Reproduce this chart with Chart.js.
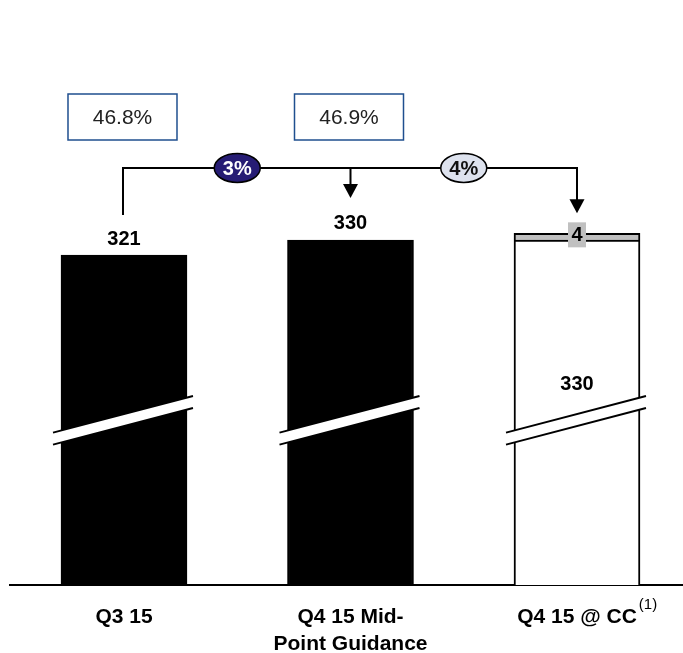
<!DOCTYPE html>
<html>
<head>
<meta charset="utf-8">
<script src="https://cdn.jsdelivr.net/npm/chart.js@4.4.1/dist/chart.umd.min.js"></script>
<style>
  html, body { margin: 0; padding: 0; background: #fff; }
  #wrap { width: 683px; height: 653px; position: relative; }
</style>
</head>
<body>
<div id="wrap"><canvas id="myChart"></canvas></div>
<script>
// chart values
let categories = [["Q3 15"], ["Q4 15 Mid-", "Point Guidance"], ["Q4 15 @ CC"]];
let footnotes = ["", "", "(1)"];
let revenue = [321, 330, 330];
let ccImpact = [null, null, 4];
let margins = ["46.8%", "46.9%"];
let growth = ["3%", "4%"];
let breakValue = 222; // where the axis break is drawn

const FONT = "'Liberation Sans', Arial, sans-serif";
Chart.defaults.font.family = FONT;

/**
 * Draws everything the bars themselves don't: breaks, labels, boxes, arrows
 */
const overlay = {
    id: "overlay",
    afterDatasetsDraw(chart) {
        const ctx = chart.ctx;
        const bars = chart.getDatasetMeta(0).data;
        const tops = chart.getDatasetMeta(1).data;
        const breakY = chart.scales.y.getPixelForValue(breakValue);
        const slope = 0.262;

        ctx.save();

        // axis break bands
        bars.forEach(bar => {
            let x1 = bar.x - bar.width / 2 - 8;
            let x2 = bar.x + bar.width / 2 + 6;
            let yL = breakY + (bar.x - x1) * slope;
            let yR = breakY - (x2 - bar.x) * slope;
            ctx.fillStyle = "#fff";
            ctx.beginPath();
            ctx.moveTo(x1, yL - 6);
            ctx.lineTo(x2, yR - 6);
            ctx.lineTo(x2, yR + 6);
            ctx.lineTo(x1, yL + 6);
            ctx.closePath();
            ctx.fill();
            ctx.strokeStyle = "#000";
            ctx.lineWidth = 2;
            ctx.beginPath();
            ctx.moveTo(x1, yL - 6);
            ctx.lineTo(x2, yR - 6);
            ctx.moveTo(x1, yL + 6);
            ctx.lineTo(x2, yR + 6);
            ctx.stroke();
        });

        // value labels
        ctx.fillStyle = "#000";
        ctx.font = "bold 20px " + FONT;
        ctx.textAlign = "center";
        ctx.textBaseline = "alphabetic";
        ctx.fillText(String(revenue[0]), bars[0].x, bars[0].y - 10);
        ctx.fillText(String(revenue[1]), bars[1].x, bars[1].y - 11);
        ctx.textBaseline = "middle";
        ctx.fillText(String(revenue[2]), bars[2].x, breakY - 36);

        // grey cc impact label
        let t = tops[2];
        let cy = t.y + 1.5;
        ctx.fillStyle = "#c0c0c0";
        ctx.fillRect(t.x - 9, cy - 12.5, 18, 25);
        ctx.fillStyle = "#000";
        ctx.fillText(String(ccImpact[2]), t.x, cy + 1);

        // margin boxes
        ctx.font = "21px " + FONT;
        margins.forEach((m, i) => {
            let bx = bars[i].x - 1.5;
            ctx.fillStyle = "#fff";
            ctx.fillRect(bx - 54.5, 94, 109, 46);
            ctx.strokeStyle = "#1f4f8f";
            ctx.lineWidth = 1.5;
            ctx.strokeRect(bx - 54.5, 94, 109, 46);
            ctx.fillStyle = "#222";
            ctx.fillText(m, bx, 118);
        });

        // connector with arrows
        const lineY = 168;
        let tip2 = bars[1].y - 42;
        let tip3 = t.y - 20;
        ctx.strokeStyle = "#000";
        ctx.lineWidth = 2;
        ctx.beginPath();
        ctx.moveTo(bars[0].x - 1, bars[0].y - 40);
        ctx.lineTo(bars[0].x - 1, lineY);
        ctx.lineTo(bars[2].x, lineY);
        ctx.lineTo(bars[2].x, tip3 - 13);
        ctx.moveTo(bars[1].x, lineY);
        ctx.lineTo(bars[1].x, tip2 - 13);
        ctx.stroke();
        ctx.fillStyle = "#000";
        [[bars[1].x, tip2], [bars[2].x, tip3]].forEach(a => {
            ctx.beginPath();
            ctx.moveTo(a[0] - 7.5, a[1] - 14);
            ctx.lineTo(a[0] + 7.5, a[1] - 14);
            ctx.lineTo(a[0], a[1]);
            ctx.closePath();
            ctx.fill();
        });

        // growth ovals
        const ovalFill = ["#261c74", "#dde2ee"];
        const ovalText = ["#fff", "#111"];
        growth.forEach((g, i) => {
            let ox = (bars[i].x + bars[i + 1].x) / 2;
            ctx.beginPath();
            ctx.ellipse(ox, lineY, 23, 14.5, 0, 0, Math.PI * 2);
            ctx.fillStyle = ovalFill[i];
            ctx.fill();
            ctx.lineWidth = 1.5;
            ctx.strokeStyle = "#000";
            ctx.stroke();
            ctx.font = "bold 20px " + FONT;
            ctx.fillStyle = ovalText[i];
            ctx.fillText(g, ox, lineY + 1);
        });

        ctx.restore();
    },
    afterDraw(chart) {
        // superscript footnote markers after the tick labels
        const ctx = chart.ctx;
        const xs = chart.scales.x;
        ctx.save();
        footnotes.forEach((f, i) => {
            if (!f) return;
            ctx.font = "bold 21px " + FONT;
            let w = ctx.measureText(categories[i][0]).width;
            let x = xs.getPixelForValue(i) + w / 2 + 2;
            ctx.font = "15px " + FONT;
            ctx.fillStyle = "#000";
            ctx.textAlign = "left";
            ctx.textBaseline = "top";
            ctx.fillText(f, x, xs.top + 12);
        });
        ctx.restore();
    }
};

new Chart("myChart", {
    type: "bar",
    data: {
        datasets: [{
            data: revenue.map((v, i) => ({ x: i, y: v })),
            backgroundColor: ["#000", "#000", "#fff"],
            borderColor: "#000",
            borderWidth: 2,
            barThickness: 126
        }, {
            data: ccImpact.map((v, i) => ({ x: i, y: v })),
            backgroundColor: "#c0c0c0",
            borderColor: "#000",
            borderWidth: 2,
            barThickness: 126
        }]
    },
    options: {
        responsive: true,
        maintainAspectRatio: false,
        animation: false,
        layout: { padding: { left: 10, top: 0, right: 0, bottom: 0 } },
        plugins: {
            legend: { display: false },
            tooltip: { enabled: false }
        },
        scales: {
            x: {
                type: "linear",
                offset: false,
                stacked: true,
                min: -0.5033,
                max: 2.468,
                grid: { display: false, drawTicks: false },
                border: { display: true, color: "#000", width: 2 },
                afterBuildTicks: s => { s.ticks = categories.map((c, i) => ({ value: i })); },
                afterFit: s => { s.height = 68; },
                ticks: {
                    padding: 18,
                    autoSkip: false,
                    maxRotation: 0,
                    color: "#000",
                    font: { size: 21, weight: "bold", lineHeight: 1.31 },
                    callback: (v) => categories[Math.round(v)]
                }
            },
            y: {
                display: false,
                stacked: true,
                min: 123,
                max: 474
            }
        }
    },
    plugins: [overlay]
});
</script>
</body>
</html>
